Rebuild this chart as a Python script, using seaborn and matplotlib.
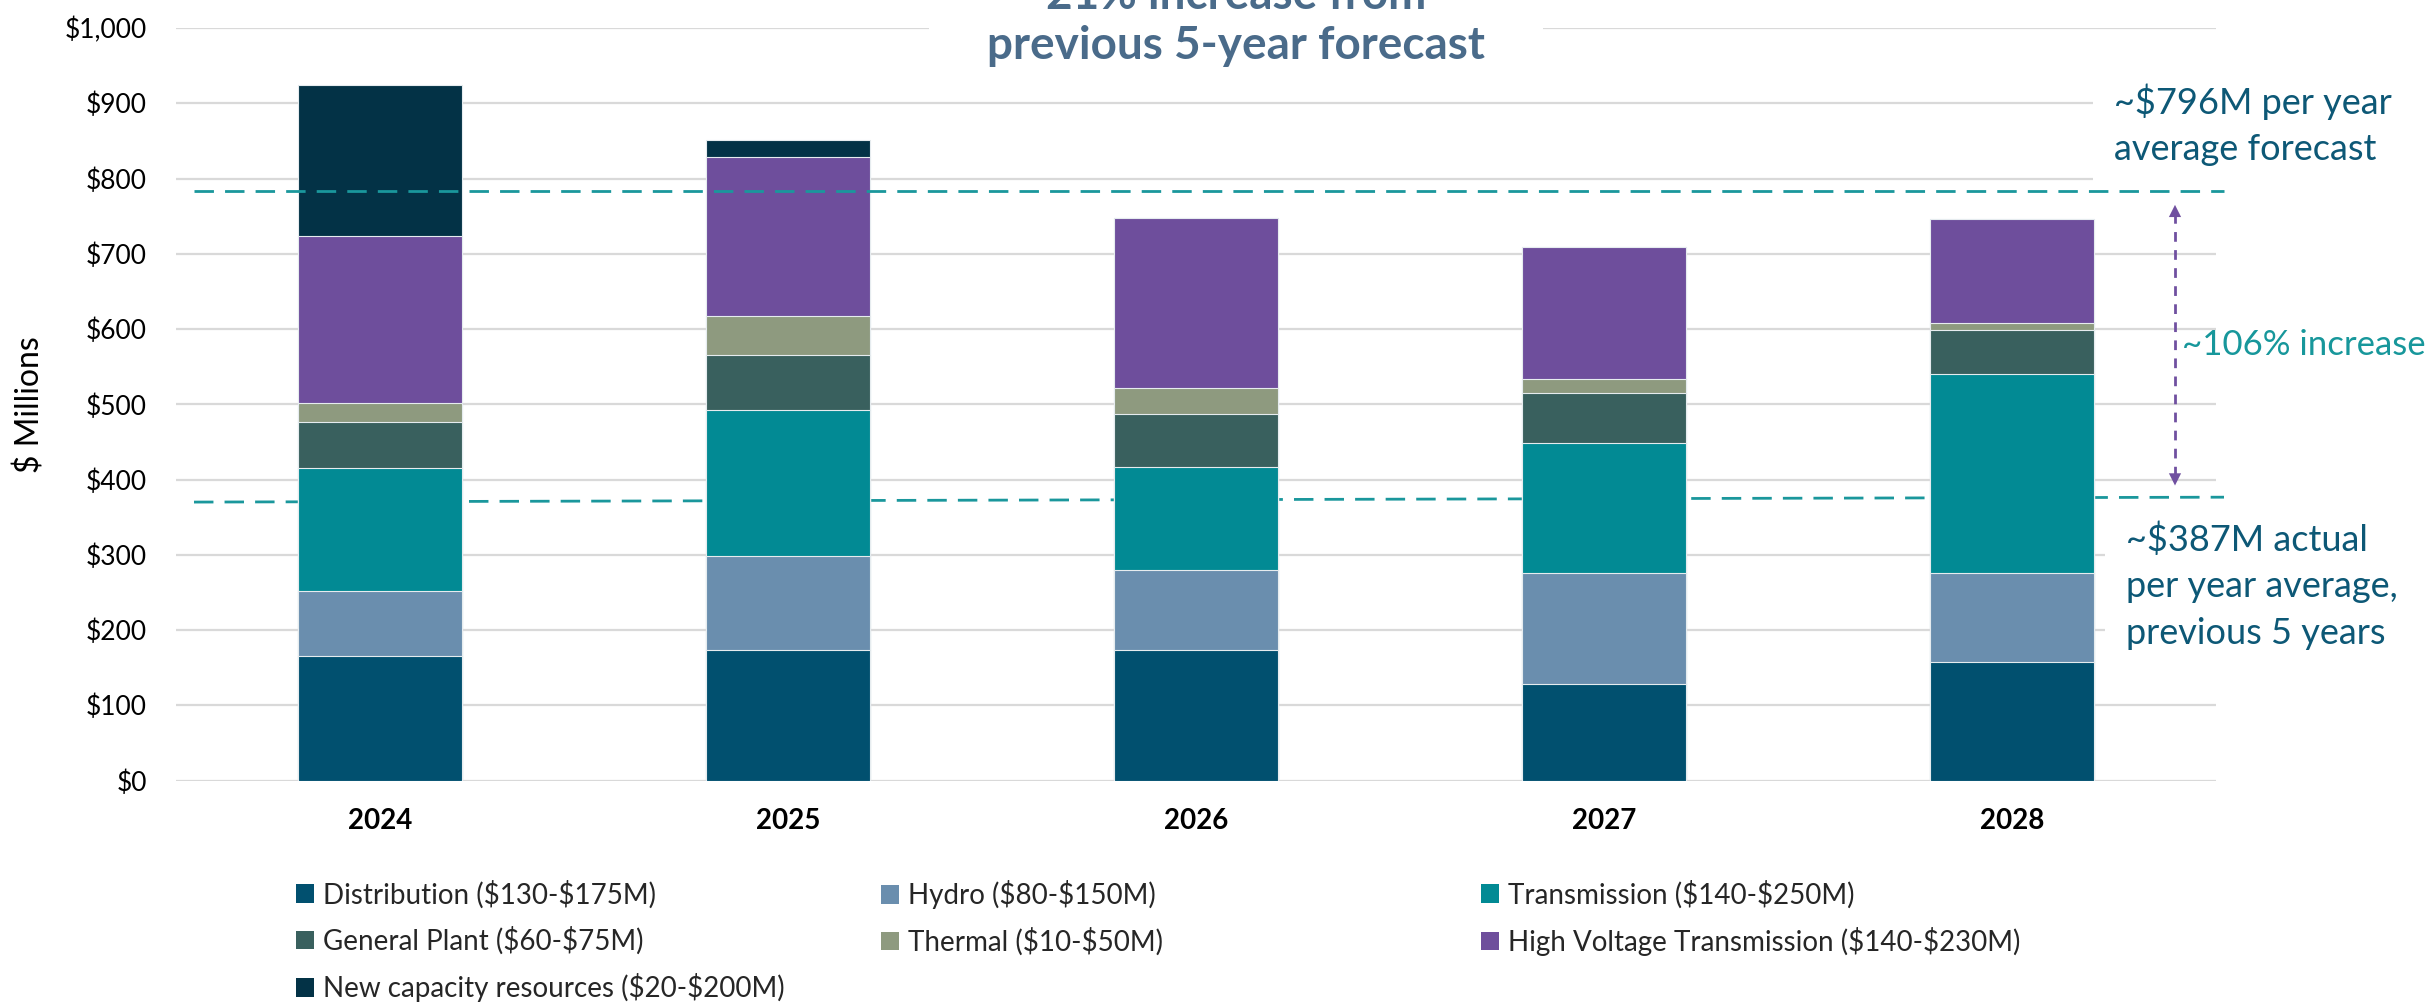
import numpy as np
import pandas as pd
import matplotlib
matplotlib.use('Agg')  # no display
import matplotlib.pyplot as plt
from matplotlib.patches import Patch, Rectangle
import seaborn as sns

# ---- data ($ millions) ----
years = ['2024', '2025', '2026', '2027', '2028']
categories = ['Distribution ($130-$175M)', 'Hydro ($80-$150M)', 'Transmission ($140-$250M)',
              'General Plant ($60-$75M)', 'Thermal ($10-$50M)',
              'High Voltage Transmission ($140-$230M)', 'New capacity resources ($20-$200M)']
distribution = [166, 174, 173, 128, 157]
hydro = [86, 125, 107, 148, 119]
transmission = [163, 193, 137, 172, 264]
general_plant = [62, 73, 70, 67, 59]
thermal = [25, 52, 35, 19, 9]
hv_transmission = [222, 212, 226, 175, 138]
new_capacity = [200, 22, 0, 0, 0]

forecast_avg = 783         # dashed line, upper
actual_avg = [370, 376.5]  # dashed line, lower (slightly slanted in the source)
arrow_span = [392, 765]

yticks = list(range(0, 1001, 100))
ytick_labels = [f"${v:,}" for v in yticks]

colors = ['#01506f', '#6a8eae', '#028a94', '#39605e', '#8e9a7f', '#6e4e9c', '#033246']
TEAL_LINE = '#1a979c'
PURPLE = '#7050a0'

W, H = 2433, 1002
def fx(px):
    return px / W
def fy(py):
    return 1 - py / H

sns.set_theme(style='white')
plt.rcParams['font.family'] = ['Lato', 'DejaVu Sans']

fig = plt.figure(figsize=(W / 100, H / 100), dpi=100)
ax = fig.add_axes([fx(176), fy(780.5), fx(2216) - fx(176), fy(28) - fy(780.5)])

# stacked bars: draw cumulative totals from the top segment down
segments = np.array([distribution, hydro, transmission, general_plant, thermal,
                     hv_transmission, new_capacity])
tops = np.cumsum(segments, axis=0)
df = pd.DataFrame(tops.T, columns=categories)
df['year'] = years
for i in reversed(range(len(categories))):
    sns.barplot(data=df, x='year', y=categories[i], color=colors[i], saturation=1,
                width=0.4, edgecolor='#e6ecef', linewidth=0.8, ax=ax, zorder=2)

ax.set_xlim(-0.5, 4.5)
ax.set_ylim(0, 1000)
ax.set_yticks(yticks)
ax.set_yticklabels(ytick_labels)
ax.yaxis.grid(True, color='#d9d9d9', linewidth=1.6)
ax.xaxis.grid(False)
ax.set_axisbelow(True)
sns.despine(ax=ax, left=True, bottom=True)
ax.tick_params(axis='y', length=0, pad=21, labelsize=19, labelcolor='black')
ax.tick_params(axis='x', length=0, pad=20, labelsize=20, labelcolor='black')
for lab in ax.get_xticklabels():
    lab.set_fontweight('bold')
ax.set_xlabel('')
ax.set_ylabel('$ Millions', fontsize=23, color='black')
ax.yaxis.label.set_verticalalignment('center')
ax.yaxis.set_label_coords((30 - 176) / 2040, (780.5 - 405) / 752.5)

# average lines
yt = ax.get_yaxis_transform()
ax.plot([(194 - 176) / 2040, (2224 - 176) / 2040], [forecast_avg, forecast_avg], transform=yt,
        color=TEAL_LINE, lw=2, dashes=(7, 4), clip_on=False, zorder=4)
ax.plot([(194 - 176) / 2040, (2224 - 176) / 2040], actual_avg, transform=yt,
        color=TEAL_LINE, lw=2, dashes=(7, 4), clip_on=False, zorder=1)

# double arrow between the two averages
xa = (2175 - 176) / 2040
ax.plot([xa, xa], [arrow_span[0] + 12, arrow_span[1] - 12], transform=yt,
        color=PURPLE, lw=2, dashes=(3.5, 3), clip_on=False, zorder=4)
for tip, base in [(arrow_span[1], arrow_span[1] - 20), (arrow_span[0], arrow_span[0] + 20)]:
    ax.annotate('', xy=(xa, tip), xytext=(xa, base), xycoords=yt, textcoords=yt,
                arrowprops=dict(arrowstyle='-|>', color=PURPLE, lw=0, mutation_scale=22,
                                shrinkA=0, shrinkB=0), annotation_clip=False, zorder=4)

# white boxes behind text blocks (they break the gridlines in the source)
for x0, y0, x1, y1 in [(929, 0, 1543, 80), (2093, 60, W, 186), (2105, 505, W, 668)]:
    ax.add_patch(Rectangle((fx(x0), fy(y1)), fx(x1) - fx(x0), fy(y0) - fy(y1),
                           transform=fig.transFigure, facecolor='white', edgecolor='none',
                           clip_on=False, zorder=1.5))

# heading runs off the top edge in the source, as here
fig.text(fx(1236), fy(9), '21% increase from', ha='center', va='baseline',
         fontsize=33, fontweight='bold', color='#4a6b8a')
fig.text(fx(1236), fy(59), 'previous 5-year forecast', ha='center', va='baseline',
         fontsize=33, fontweight='bold', color='#4a6b8a')
fig.text(fx(2114), fy(125), '~$796M per year\naverage forecast', ha='left', va='center',
         fontsize=26, color='#0d5876', linespacing=1.5)
fig.text(fx(2182), fy(345), '~106% increase', ha='left', va='center',
         fontsize=25, color='#17979b')
fig.text(fx(2126), fy(586), '~$387M actual\nper year average,\nprevious 5 years', ha='left',
         va='center', fontsize=26, color='#0d5876', linespacing=1.5)

# legend laid out as three columns, row-major like the source
handles = [Patch(facecolor=c, edgecolor='none') for c in colors]
labels = [c.replace('$', r'\$') for c in categories]
columns = [[0, 3, 6], [1, 4], [2, 5]]
col_x = [296, 881, 1481]
for idx, x in zip(columns, col_x):
    fig.legend([handles[i] for i in idx], [labels[i] for i in idx],
               loc='upper left', bbox_to_anchor=(fx(x), fy(880)), frameon=False,
               fontsize=20, handlelength=0.65, handleheight=0.65, handletextpad=0.33,
               labelspacing=0.66, borderpad=0, borderaxespad=0)

fig.savefig('out.png', dpi=100)
